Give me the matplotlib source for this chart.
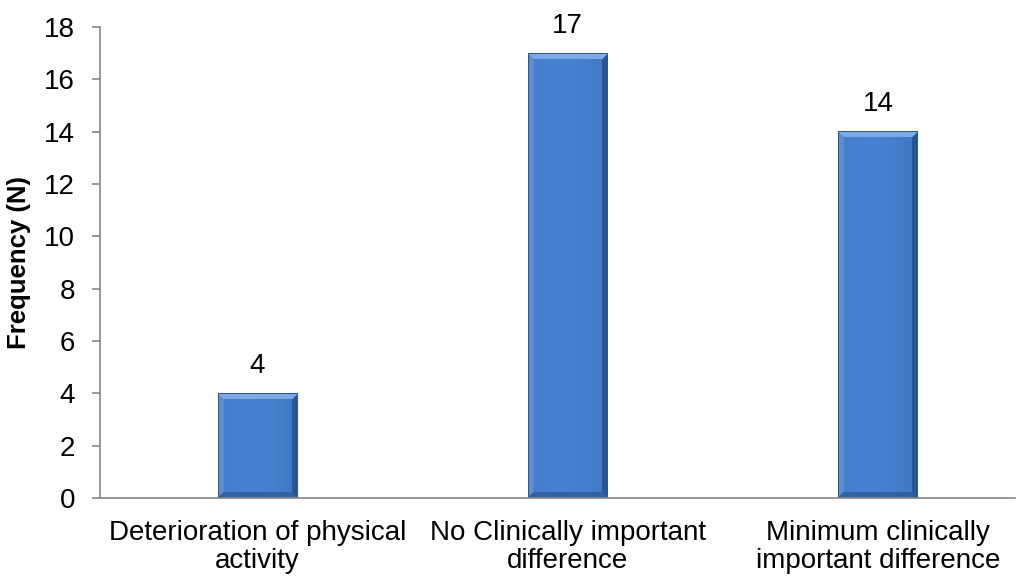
import matplotlib

matplotlib.use("Agg")
import matplotlib.pyplot as plt
import numpy as np

plt.rcParams["font.family"] = ["Liberation Sans", "DejaVu Sans"]

categories = [
    "Deterioration of physical\nactivity",
    "No Clinically important\ndifference",
    "Minimum clinically\nimportant difference",
]
frequencies = [4, 17, 14]

FACE = np.array([0x42, 0x7A, 0xC5]) / 255
TOP = np.array([0x7D, 0xAA, 0xE4]) / 255
LEFT = np.array([0x5A, 0x8E, 0xD3]) / 255
RIGHT = np.array([0x2A, 0x55, 0x8E]) / 255
BOTTOM = np.array([0x33, 0x62, 0xA3]) / 255


def bevel_image(w_px, h_px, b=6):
    w_px, h_px = max(int(w_px), 2), max(int(h_px), 2)
    i = np.arange(h_px)[:, None] * np.ones((1, w_px))
    j = np.arange(w_px)[None, :] * np.ones((h_px, 1))
    d = np.stack([i, h_px - 1 - i, j, w_px - 1 - j])
    which = d.argmin(axis=0)
    dmin = d.min(axis=0)
    img = np.empty((h_px, w_px, 3))
    img[:] = FACE
    # soft vertical sheen across the face
    sheen = 1 + 0.06 * np.cos((j / (w_px - 1) - 0.4) * np.pi)
    img *= sheen[..., None]
    for k, col in enumerate([TOP, BOTTOM, LEFT, RIGHT]):
        m = (which == k) & (dmin < b)
        img[m] = col
    # thin dark outline
    edge = dmin < 1
    img[edge] = np.array([0x2C, 0x57, 0x90]) / 255
    return np.clip(img, 0, 1)


fig = plt.figure(figsize=(10.18, 5.76), dpi=100)
ax = fig.add_axes([100 / 1018, 78 / 576, 915 / 1018, 471 / 576])

x = np.arange(len(categories))
ax.set_xlim(-0.508, 2.442)
ax.set_ylim(0, 18)

bars = ax.bar(x, frequencies, width=0.255, color="none", linewidth=0, zorder=2)
fig.canvas.draw()
for rect in bars:
    x0, w, h = rect.get_x(), rect.get_width(), rect.get_height()
    (px0, py0), (px1, py1) = ax.transData.transform([(x0, 0), (x0 + w, h)])
    img = bevel_image(px1 - px0, py1 - py0)
    ax.imshow(img, extent=[x0, x0 + w, 0, h], aspect="auto", zorder=2.5,
              interpolation="nearest")
    ax.text(x0 + w / 2, h + 0.55, str(int(h)), ha="center", va="bottom", fontsize=20)

ax.set_xlim(-0.508, 2.442)
ax.set_ylim(0, 18)
ax.set_yticks(range(0, 19, 2))
ax.set_xticks(x)
ax.set_xticklabels(categories, fontsize=20, linespacing=1.1)
ax.tick_params(axis="y", labelsize=20, length=6, width=1.2, color="#868686", pad=12)
ax.tick_params(axis="x", length=0, pad=16)
ax.set_ylabel("Frequency (N)", fontsize=18.5, fontweight="bold")
ax.yaxis.set_label_coords(-0.075, 0.5)

for side in ("top", "right"):
    ax.spines[side].set_visible(False)
for side in ("left", "bottom"):
    ax.spines[side].set_color("#868686")
    ax.spines[side].set_linewidth(1.2)

fig.savefig("out.png", dpi=100)
